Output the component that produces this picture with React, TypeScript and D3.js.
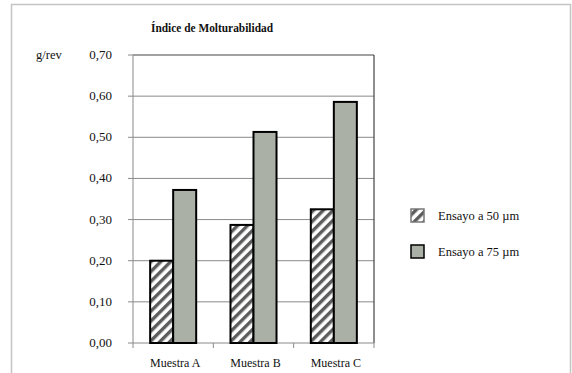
import React from "react";
import * as d3 from "d3";

const categories = ["Muestra A", "Muestra B", "Muestra C"];
const seriesNames = ["Ensayo a 50 µm", "Ensayo a 75 µm"];
const ensayo50 = [0.2, 0.287, 0.325];
const ensayo75 = [0.372, 0.513, 0.586];
const yTicks = [0, 0.1, 0.2, 0.3, 0.4, 0.5, 0.6, 0.7];
const title = "Índice de Molturabilidad";
const yUnit = "g/rev";

const W = 572;
const H = 373;
const plot = { left: 133, right: 374, top: 55, bottom: 343 };
const FONT = "Liberation Serif, Times New Roman, Times, DejaVu Serif, serif";
const GREY = "#abb0a7";
const txt = { fontFamily: FONT, fontSize: "12px" } as React.CSSProperties;

export default function App() {
  const x0 = d3.scaleBand<string>().domain(categories).range([plot.left, plot.right]).padding(0);
  const x1 = d3
    .scaleBand<string>()
    .domain(seriesNames)
    .range([0, x0.bandwidth()])
    .paddingInner(0)
    .paddingOuter(0.745);
  const y = d3.scaleLinear().domain([0, 0.7]).range([plot.bottom, plot.top]);
  const fmt = (v: number) => d3.format(".2f")(v).replace(".", ",");
  const values = [ensayo50, ensayo75];

  return (
    <svg
      width={W}
      height={H}
      style={{ position: "absolute", left: 0, top: 0, background: "#fff", fontFamily: FONT }}
    >
      <defs>
        <pattern id="hatch" width="7" height="7" patternUnits="userSpaceOnUse" patternTransform="rotate(45)">
          <rect width="7" height="7" fill="#fff" />
          <rect width="3.4" height="7" fill="#5c5c5c" />
        </pattern>
      </defs>
      <rect x={11.5} y={4.5} width={559} height={400} fill="none" stroke="#c4c4c4" strokeWidth={1.5} />
      <text
        x={212}
        y={32}
        textAnchor="middle"
        style={{ ...txt, fontSize: "12px", fontWeight: "bold" }}
        textLength={122}
        lengthAdjust="spacingAndGlyphs"
        fill="#111"
      >
        {title}
      </text>
      <text x={36} y={59} style={{ ...txt, fontSize: "12.5px" }} fill="#111">
        {yUnit}
      </text>
      {yTicks.map((t) => (
        <g key={t}>
          {t > 0 && t < 0.7 && (
            <line x1={plot.left} x2={plot.right} y1={y(t)} y2={y(t)} stroke="#8a8a8a" strokeWidth={1} />
          )}
          <line x1={plot.left - 5} x2={plot.left} y1={y(t)} y2={y(t)} stroke="#8a8a8a" strokeWidth={1} />
          <text x={112} y={y(t) + 4} textAnchor="end" style={{ ...txt, fontSize: "13px" }} fill="#111">
            {fmt(t)}
          </text>
        </g>
      ))}
      <line x1={plot.left} x2={plot.right} y1={plot.top} y2={plot.top} stroke="#444" strokeWidth={1.2} />
      <line x1={plot.right} x2={plot.right} y1={plot.top} y2={plot.bottom} stroke="#444" strokeWidth={1.2} />
      <line x1={plot.left} x2={plot.left} y1={plot.top} y2={plot.bottom} stroke="#8a8a8a" strokeWidth={1} />
      <line x1={plot.left} x2={plot.right} y1={plot.bottom} y2={plot.bottom} stroke="#8a8a8a" strokeWidth={1} />
      {[...categories.map((c) => x0(c) as number), plot.right].map((xv, i) => (
        <line key={i} x1={xv} x2={xv} y1={plot.bottom} y2={plot.bottom + 5} stroke="#8a8a8a" strokeWidth={1} />
      ))}
      {categories.map((c, ci) => (
        <g key={c} transform={`translate(${x0(c)},0)`}>
          {seriesNames.map((s, si) => {
            const v = values[si][ci];
            return (
              <rect
                key={s}
                x={x1(s)}
                y={y(v)}
                width={x1.bandwidth()}
                height={y(0) - y(v)}
                fill={si === 0 ? "url(#hatch)" : GREY}
                stroke="#000"
                strokeWidth={2}
              />
            );
          })}
          <text x={x0.bandwidth() / 2 + 2} y={367} textAnchor="middle" style={txt} fill="#111">
            {c}
          </text>
        </g>
      ))}
      {seriesNames.map((s, i) => {
        const ly = 209 + i * 36;
        return (
          <g key={s}>
            <rect
              x={411}
              y={ly}
              width={13}
              height={13}
              fill={i === 0 ? "url(#hatch)" : GREY}
              stroke={i === 0 ? "#777" : "#000"}
              strokeWidth={1.5}
            />
            <text x={438} y={ly + 11} style={{ ...txt, fontSize: "12.5px" }} fill="#111">
              {s}
            </text>
          </g>
        );
      })}
    </svg>
  );
}
